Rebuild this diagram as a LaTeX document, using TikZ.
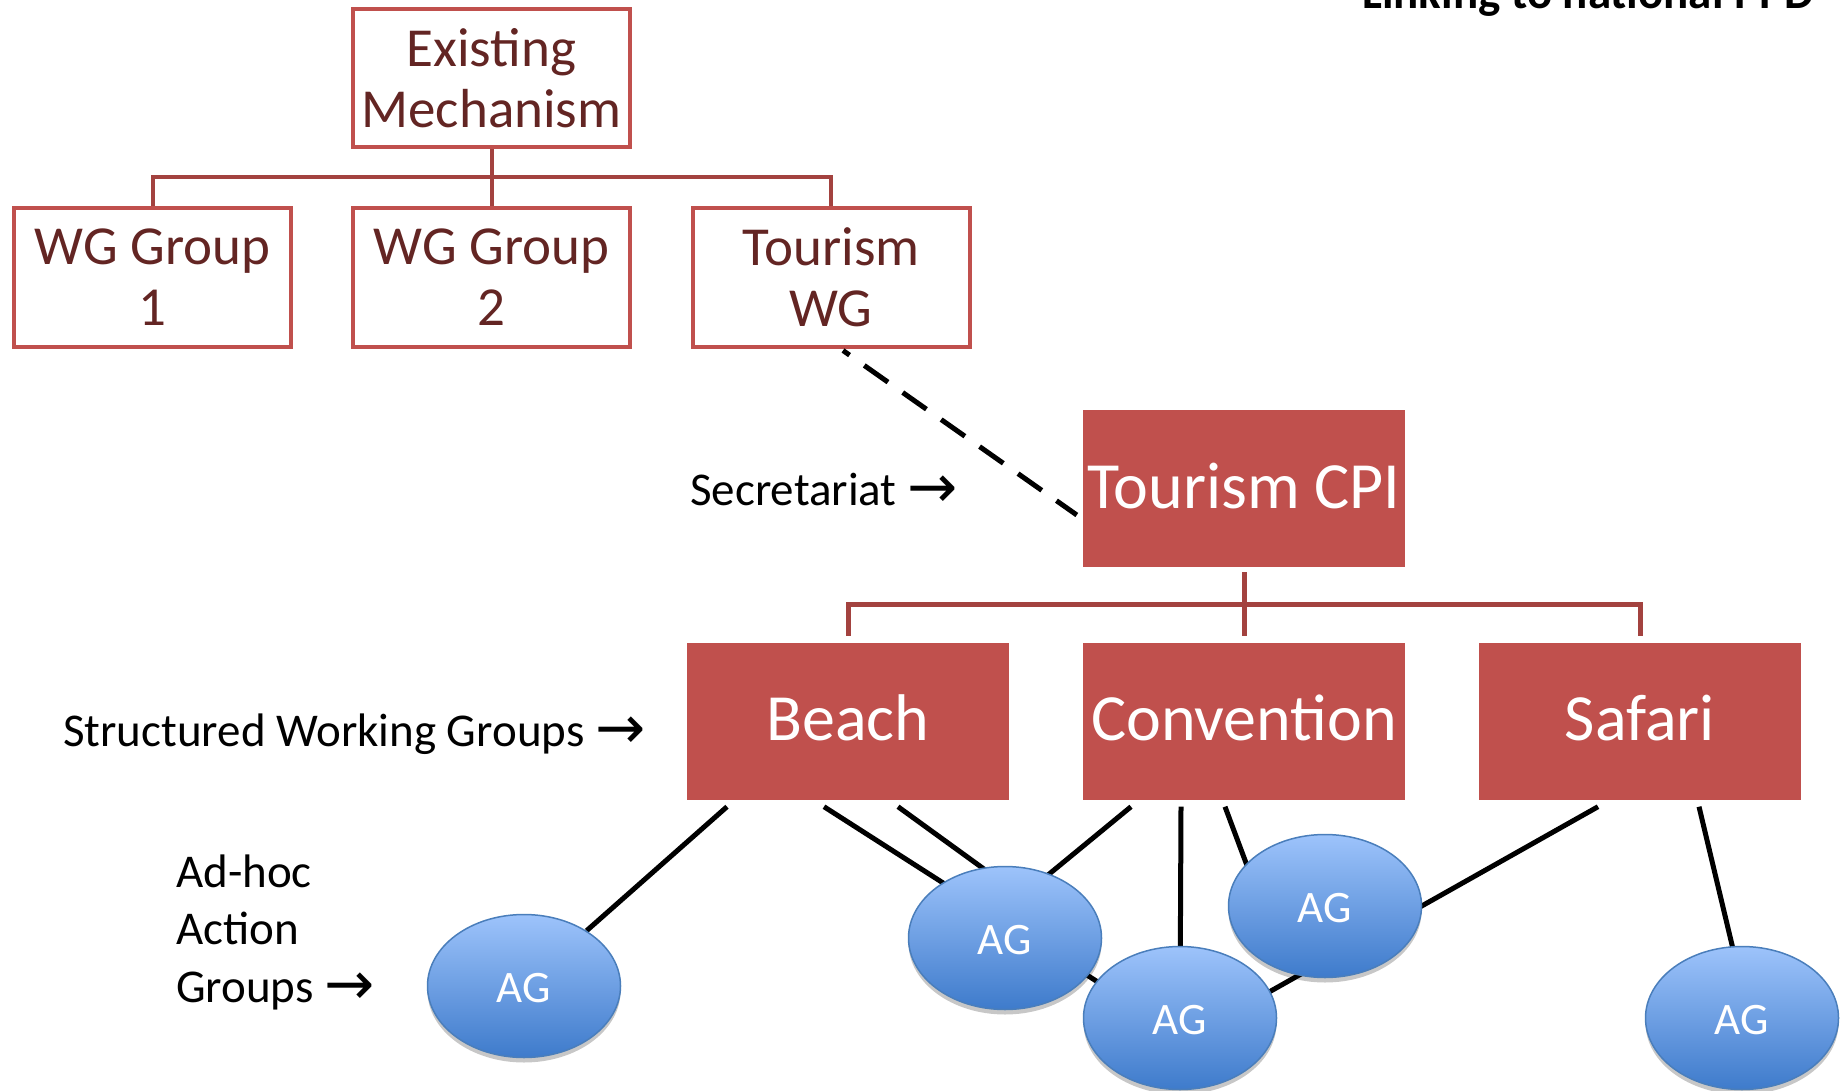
\documentclass[tikz,border=0pt]{standalone}
\usepackage{fontspec}
\setmainfont{Carlito}
\newfontfamily\arrowfont{DejaVu Sans}
\usetikzlibrary{shapes.geometric,backgrounds,shadows}

\definecolor{boxred}{HTML}{C0504D}
\definecolor{treered}{HTML}{A3423F}
\definecolor{darkred}{HTML}{632523}
\definecolor{agtop}{HTML}{9DC3FB}
\definecolor{agbot}{HTML}{3E7BCB}
\definecolor{agline}{HTML}{4A7EBB}

% right arrow after the side labels, set a little larger than the text
\newcommand{\rarr}{{\arrowfont\fontsize{60}{60}\selectfont\raisebox{-2pt}{\char"2192}}}

\tikzset{
  outlinebox/.style={draw=boxred, line width=4pt, fill=white,
    minimum width=277pt, minimum height=138pt, inner sep=0pt,
    align=center, text=darkred, font=\fontsize{55}{61}\selectfont},
  solidbox/.style={fill=boxred, minimum width=322pt, minimum height=157pt,
    inner sep=0pt, text=white, font=\fontsize{66}{78}\selectfont,
    text height=55pt, text depth=16pt},
  agnode/.style={ellipse, draw=agline, line width=1.5pt,
    top color=agtop, bottom color=agbot,
    minimum width=193pt, minimum height=143pt, inner sep=0pt,
    text=white, font=\fontsize{45}{54}\selectfont,
    text height=32pt, text depth=0pt,
    drop shadow={shadow xshift=0pt, shadow yshift=-5pt, opacity=0.22, fill=black}},
  sidelabel/.style={anchor=base west, inner sep=0pt, align=left,
    font=\fontsize{47}{57.5}\selectfont},
  toptree/.style={draw=treered, line width=4pt},
  cpitree/.style={draw=treered, line width=5pt},
  agconn/.style={draw=black, line width=5pt},
  secline/.style={draw=black, line width=5pt, dash pattern=on 29pt off 18pt, dash phase=21pt}
}

\begin{document}
\begin{tikzpicture}[x=1pt, y=-1pt]
\useasboundingbox (0,0) rectangle (1843,1091);

% heading, partly above the page edge
\node[anchor=base east, inner sep=0pt, font=\fontsize{47}{57}\selectfont\bfseries]
  (title) at (1814,9) {Linking to national PPD};

% existing mechanism and its working groups
\node[outlinebox] (exist) at (491.5,78) {Existing\\Mechanism};
\node[outlinebox] (wg1) at (152.5,277.5) {WG Group\\1};
\node[outlinebox] (wg2) at (491.5,277.5) {WG Group\\2};
\node[outlinebox] (twg) at (831,277.5) {Tourism\\WG};

\coordinate (topbar) at ([yshift=-28pt]exist.south);
\draw[toptree] (exist.south) -- (topbar);
\draw[toptree] (topbar) -| (wg1.north);
\draw[toptree] (topbar) -| (wg2.north);
\draw[toptree] (topbar) -| (twg.north);

% tourism CPI and structured working groups
\node[solidbox] (cpi) at (1244,488.5) {Tourism CPI};
\node[solidbox] (beach) at (848,721) {Beach};
\node[solidbox] (conv) at (1244,721) {Convention};
\node[solidbox] (safari) at (1640,721) {Safari};

\coordinate (cpibar) at ([yshift=-37pt]cpi.south);
\draw[cpitree] ([yshift=-5pt]cpi.south) -- (cpibar);
\draw[cpitree] (cpibar) -| ([yshift=6pt]beach.north);
\draw[cpitree] (cpibar) -| ([yshift=6pt]conv.north);
\draw[cpitree] (cpibar) -| ([yshift=6pt]safari.north);

\draw[secline] ([xshift=12pt,yshift=-2pt]twg.south) -- ([xshift=-6pt,yshift=-26.5pt]cpi.west);

% ad-hoc action groups
\node[agnode] (ag1) at (524,986) {AG};
\node[agnode] (ag2) at (1005,938) {AG};
\node[agnode] (ag3) at (1180,1018) {AG};
\node[agnode] (ag4) at (1325,906) {AG};
\node[agnode] (ag5) at (1742,1018) {AG};

\begin{pgfonlayer}{background}
\draw[agconn] ([xshift=-121pt,yshift=-7pt]beach.south) -- (ag1);
\draw[agconn] ([xshift=-24pt,yshift=-7pt]beach.south) -- ([xshift=-40pt,yshift=9pt]ag3.center);
\draw[agconn] ([xshift=50pt,yshift=-7pt]beach.south) -- ([xshift=1pt,yshift=53pt]ag2.center);
\draw[agconn] ([xshift=-113pt,yshift=-7pt]conv.south) -- ([xshift=15pt,yshift=40pt]ag2.center);
\draw[agconn] ([xshift=-63pt,yshift=-7pt]conv.south) -- (ag3.center);
\draw[agconn] ([xshift=-19pt,yshift=-7pt]conv.south) -- ([xshift=-70pt,yshift=19pt]ag4.center);
\draw[agconn] ([xshift=-42pt,yshift=-7pt]safari.south) -- ([xshift=50pt,yshift=4pt]ag3.center);
\draw[agconn] ([xshift=59pt,yshift=-7pt]safari.south) -- ([xshift=-4pt,yshift=48pt]ag5.center);
\end{pgfonlayer}

% side labels (the base anchor of a multi-line label is its last line)
\node[sidelabel] (lblsec) at (690,505) {Secretariat \rarr};
\node[sidelabel] (lblswg) at (63,746) {Structured Working Groups \rarr};
\node[sidelabel] (lblag) at (176,1002) {Ad-hoc\\Action\\Groups \rarr};
\end{tikzpicture}
\end{document}
